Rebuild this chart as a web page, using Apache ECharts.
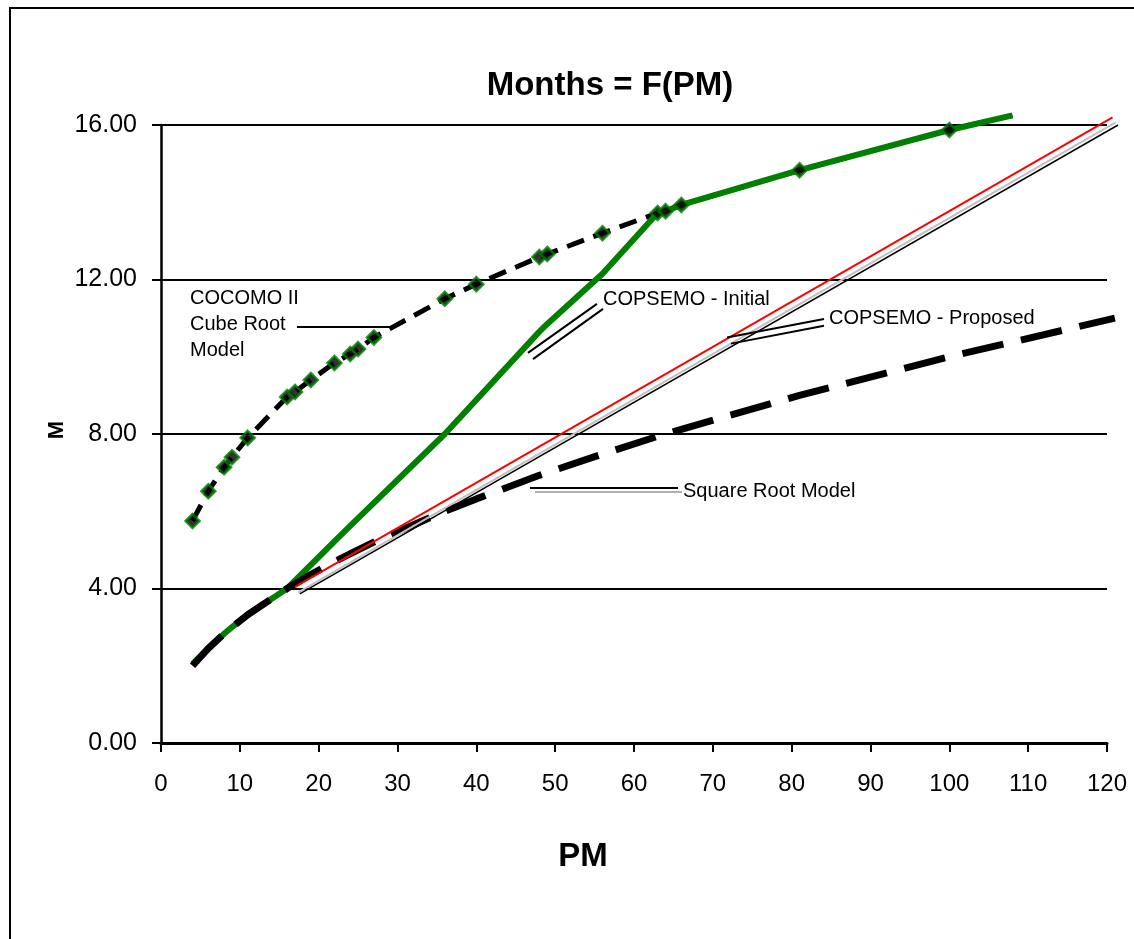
<!DOCTYPE html>
<html>
<head>
<meta charset="utf-8">
<script src="https://cdn.jsdelivr.net/npm/echarts@6/dist/echarts.min.js"></script>
<style>
html,body{margin:0;padding:0;background:#fff;}
#chart{width:1134px;height:939px;}
</style>
</head>
<body>
<div id="chart"></div>
<script>
// ---- Data ----
const pmCube = [4,6,8,9,11,16,17,19,22,24,25,27,36,40,48,49,56,63,64,66,81,100];
const mCube  = [5.75,6.52,7.14,7.4,7.9,8.96,9.09,9.4,9.84,10.07,10.2,10.5,11.5,11.88,12.58,12.66,13.2,13.72,13.77,13.93,14.83,15.87];
const cubeTail = [108,16.25];

const pmSqrt = [4,6,8,9,11,16,17,19,22,24,25,27,36,40,48,49,56,63,64,66,81,100,121];
const mSqrt  = [2.0,2.45,2.83,3.0,3.32,4.0,4.12,4.36,4.69,4.9,5.0,5.2,6.0,6.32,6.93,7.0,7.48,7.94,8.0,8.12,9.0,10.0,11.0];

const pmInit = [4,6,8,9,11,16,22,24,36,48,49,56,63,64,66,81,100,108];
const mInit  = [2.05,2.45,2.83,3.0,3.32,4.0,5.22,5.62,8.0,10.65,10.85,12.15,13.72,13.77,13.93,14.83,15.87,16.25];

const pmProposed = [17,120.7];
const mProposed  = [4.04,16.2];
const pmGrey = [17.4,121.1];
const mGrey  = [3.9,16.07];
const pmThin = [17.6,121.4];
const mThin  = [3.86,16.0];

const xTicks = [0,10,20,30,40,50,60,70,80,90,100,110,120];
const yTicks = [0,4,8,12,16];

// annotation leader lines (data coords)
const leaders = [
  {pts:[[17.25,10.77],[29.43,10.77]], color:'#000'},
  {pts:[[55.3,11.37],[46.55,10.10]], color:'#000'},
  {pts:[[56.07,11.24],[47.19,9.94]], color:'#000'},
  {pts:[[84.1,10.98],[71.8,10.5]], color:'#000'},
  {pts:[[84.1,10.80],[72.3,10.34]], color:'#000'},
  {pts:[[46.81,6.60],[65.58,6.60]], color:'#000'},
  {pts:[[47.44,6.50],[66.09,6.50]], color:'#b0b0b0'}
];
const notes = [
  {text:'COCOMO II', at:[3.68,11.5]},
  {text:'Cube Root', at:[3.68,10.83]},
  {text:'Model', at:[3.68,10.15]},
  {text:'COPSEMO - Initial', at:[56.07,11.47]},
  {text:'COPSEMO - Proposed', at:[84.74,11.0]},
  {text:'Square Root Model', at:[66.22,6.52]}
];

const zip = (a,b) => a.map((v,i)=>[v,b[i]]);
const FONT = "'Liberation Sans', Arial, sans-serif";

// main plot geometry; an invisible overlay grid with the same scale reaches the right edge
const W = 1134, GL = 161, GR = 27;
const XMAX = 120;
const pxPerUnit = (W - GL - GR) / XMAX;
const XMAX2 = (W - GL) / pxPerUnit;

const chart = echarts.init(document.getElementById('chart'), null, {renderer:'canvas'});

const series = [
  {type:'line', name:'Cube Root Line', data: zip(pmCube,mCube).concat([cubeTail]), showSymbol:false, clip:false, z:2,
   lineStyle:{color:'#000', width:5, type:[18,10]}},
  {type:'line', name:'COPSEMO - Initial', data: zip(pmInit,mInit), showSymbol:false, clip:false, z:3,
   lineStyle:{color:'#008000', width:6}},
  {type:'line', name:'Square Root Model', data: zip(pmSqrt,mSqrt), xAxisIndex:1, yAxisIndex:1, showSymbol:false, clip:false, z:4,
   lineStyle:{color:'#000', width:7, type:[42,18]}},
  {type:'line', name:'COPSEMO - Proposed', data: zip(pmProposed,mProposed), xAxisIndex:1, yAxisIndex:1, showSymbol:false, clip:false, z:5,
   lineStyle:{color:'#ff0000', width:2}},
  {type:'line', name:'grey', data: zip(pmGrey,mGrey), xAxisIndex:1, yAxisIndex:1, showSymbol:false, clip:false, z:5,
   lineStyle:{color:'#c0c0c0', width:2}},
  {type:'line', name:'thin', data: zip(pmThin,mThin), xAxisIndex:1, yAxisIndex:1, showSymbol:false, clip:false, z:5,
   lineStyle:{color:'#000', width:1.5}},
  {type:'scatter', name:'COCOMO II', data: zip(pmCube,mCube), symbol:'diamond', symbolSize:14, clip:false, z:6,
   itemStyle:{color:'#000', borderColor:'#008000', borderWidth:2.5}}
];
leaders.forEach((l,i)=>{
  series.push({type:'line', name:'leader'+i, data:l.pts, showSymbol:false, clip:false, z:5,
    lineStyle:{color:l.color, width:2}, silent:true});
});

chart.setOption({
  animation:false,
  backgroundColor:'#fff',
  textStyle:{fontFamily:FONT},
  title:{text:'Months = F(PM)', left:605, top:64, textAlign:'center',
    textStyle:{fontFamily:FONT, fontSize:33, fontWeight:'bold', color:'#000'}},
  grid:[
    {left:GL, right:GR, top:125, bottom:196, containLabel:false},
    {left:GL, right:0, top:125, bottom:196, containLabel:false}
  ],
  xAxis:[
    {type:'value', gridIndex:0, min:0, max:XMAX, interval:10,
     axisLine:{lineStyle:{color:'#000', width:3}},
     axisTick:{show:true, inside:false, length:9, lineStyle:{color:'#000', width:2}},
     axisLabel:{fontFamily:FONT, fontSize:24, color:'#000', margin:29,
       formatter:v=> xTicks.includes(v) ? String(v) : ''},
     splitLine:{show:false}},
    {type:'value', gridIndex:1, min:0, max:XMAX2, show:false, splitLine:{show:false}}
  ],
  yAxis:[
    {type:'value', gridIndex:0, min:0, max:16, interval:4,
     axisLine:{show:true, lineStyle:{color:'#000', width:2.5}},
     axisTick:{show:true, inside:false, length:9, lineStyle:{color:'#000', width:2}},
     axisLabel:{fontFamily:FONT, fontSize:25, color:'#000', margin:24,
       formatter:v=> yTicks.includes(v) ? v.toFixed(2) : ''},
     splitLine:{show:true, lineStyle:{color:'#000', width:2}}},
    {type:'value', gridIndex:1, min:0, max:16, show:false, splitLine:{show:false}}
  ],
  series: series
});

const gfx = [
  {type:'rect', shape:{x:10, y:8, width:1200, height:1000}, style:{fill:null, stroke:'#000', lineWidth:2}, z:0},
  {type:'text', x:583, y:857, style:{text:'PM', fill:'#000', font:"bold 33px "+FONT, textAlign:'center', textVerticalAlign:'middle'}, z:10},
  {type:'text', x:57, y:430, rotation:Math.PI/2, style:{text:'M', fill:'#000', font:"bold 22px "+FONT, textAlign:'center', textVerticalAlign:'middle'}, z:10}
];
notes.forEach(n=>{
  const p = chart.convertToPixel({gridIndex:0}, n.at);
  gfx.push({type:'text', x:p[0], y:p[1], style:{text:n.text, fill:'#000', font:"20px "+FONT, textAlign:'left', textVerticalAlign:'middle'}, z:10});
});
chart.setOption({graphic:gfx});
</script>
</body>
</html>
